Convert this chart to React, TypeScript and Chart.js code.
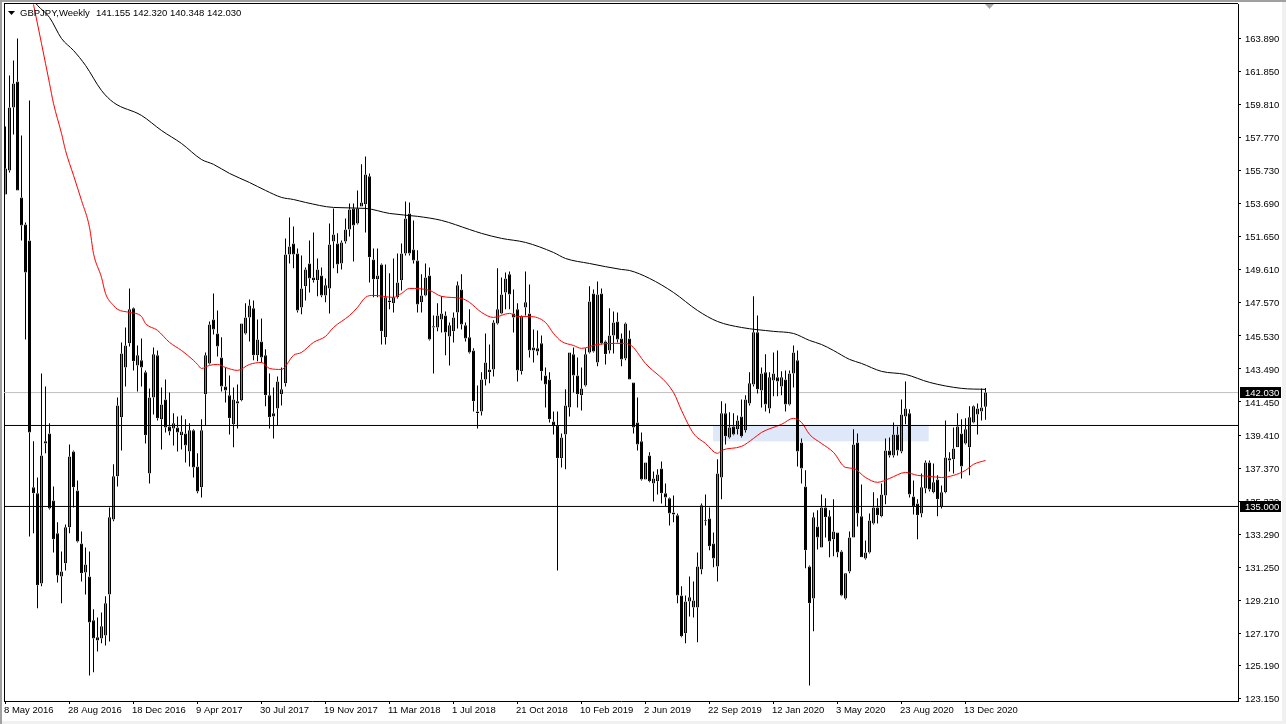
// GBPJPY weekly candlestick chart, MT4 look
import React, { useEffect, useRef } from "react";
import { Chart, registerables } from "chart.js";

Chart.register(...registerables);

const FONT = "Liberation Sans";
const GREEN = "#22c022";

const tickDates = ["8 May 2016", "28 Aug 2016", "18 Dec 2016", "9 Apr 2017", "30 Jul 2017", "19 Nov 2017", "11 Mar 2018", "1 Jul 2018", "21 Oct 2018", "10 Feb 2019", "2 Jun 2019", "22 Sep 2019", "12 Jan 2020", "3 May 2020", "23 Aug 2020", "13 Dec 2020"];
const priceTicks = [123.15, 125.19, 127.17, 129.21, 131.25, 133.29, 135.33, 137.37, 139.41, 141.45, 143.49, 145.53, 147.57, 149.61, 151.65, 153.69, 155.73, 157.77, 159.81, 161.85, 163.89];

const opens = [
	154.26,155.74,159.63,161.24,154.08,152.41,151.42,136.18,135.81,130.25,
	139.02,139.51,135.37,133.34,130.68,131.49,133.71,138.40,135.99,132.72,
	130.93,130.68,127.97,126.92,126.85,127.04,129.57,134.20,136.86,140.50,
	143.58,145.07,147.23,143.71,144.02,143.28,137.04,141.73,144.33,140.38,
	141.61,139.94,139.82,139.88,139.39,139.51,138.40,139.70,137.47,136.18,
	141.92,143.83,146.55,145.68,144.20,142.41,141.86,140.07,141.49,141.55,
	145.68,146.67,147.23,144.33,145.19,144.33,141.86,140.75,141.05,141.92,
	142.60,150.56,151.24,150.62,147.29,148.59,150.00,149.14,148.96,149.26,
	148.03,148.46,151.36,151.24,150.00,151.36,152.10,153.40,152.47,153.52,
	153.65,155.38,150.25,149.02,149.94,145.44,147.72,147.54,147.91,148.96,
	150.62,153.09,150.87,150.19,147.60,148.03,149.26,146.12,146.05,146.55,
	146.79,145.50,145.81,146.98,148.40,146.18,145.44,144.63,140.87,140.87,
	142.84,143.46,143.46,146.30,146.92,148.21,149.33,146.92,147.17,143.34,
	147.29,146.92,144.82,144.76,145.07,143.09,142.84,140.25,140.00,137.97,
	139.45,141.11,144.39,143.09,141.86,142.47,144.51,148.15,143.89,148.15,
	145.19,144.63,145.56,146.42,145.37,144.14,145.37,142.66,140.19,139.02,
	136.67,138.15,136.42,136.55,137.35,135.81,135.50,134.63,134.45,129.51,
	127.17,129.14,128.77,128.77,131.11,134.14,134.26,132.72,131.30,136.79,
	140.75,139.26,139.94,139.76,140.56,139.70,141.36,142.53,145.75,142.16,
	143.28,141.05,142.78,142.97,142.41,142.84,141.30,143.21,144.02,138.95,
	136.24,131.30,129.32,133.77,132.47,134.94,134.39,132.97,133.40,132.22,
	129.32,130.99,133.09,138.95,134.39,131.79,132.16,133.95,134.94,134.39,
	135.68,138.46,138.15,139.45,138.40,140.56,140.75,135.62,135.19,134.57,
	136.11,137.72,135.87,136.67,135.00,135.87,137.97,137.91,138.65,139.51,
	138.89,138.65,140.19,140.68,140.87,141.155,
];
const highs = [
	158.46,161.61,162.53,163.89,157.90,152.53,160.06,139.02,136.79,143.21,
	142.41,140.13,136.24,134.02,132.22,133.89,138.83,138.46,136.61,133.46,
	132.47,132.22,128.65,128.15,128.46,129.45,134.94,137.60,141.73,145.13,
	146.05,148.46,147.29,144.94,145.37,143.40,142.29,144.82,144.63,142.35,
	142.84,142.04,140.75,140.56,140.62,140.38,140.13,139.76,138.28,140.38,
	144.51,146.42,148.15,147.10,145.44,143.58,143.09,142.35,142.53,146.30,
	147.54,147.78,147.72,146.55,146.61,144.70,143.21,142.35,143.03,143.58,
	151.55,152.84,152.29,150.93,150.50,149.76,151.42,151.92,150.31,149.76,
	149.08,152.47,153.40,151.86,151.42,152.78,153.71,153.71,154.51,156.12,
	156.61,155.56,150.93,150.93,150.00,149.94,149.39,150.31,150.62,151.24,
	153.83,153.77,152.66,150.81,149.33,150.00,149.76,146.79,147.54,147.97,
	147.04,146.36,146.98,148.89,149.33,146.36,147.17,144.76,142.47,143.28,
	145.68,145.00,146.49,149.70,149.14,149.45,149.51,148.40,147.54,146.79,
	149.51,148.71,145.93,145.87,145.56,143.58,143.28,140.87,140.87,139.51,
	142.23,144.51,144.82,144.20,143.58,144.76,148.59,148.40,148.89,148.46,
	145.25,147.23,147.04,146.98,145.68,146.36,145.87,142.66,141.73,139.57,
	137.72,138.34,137.16,137.29,137.78,136.42,135.56,135.68,134.57,130.07,
	129.51,130.68,130.37,132.16,135.19,135.74,134.94,133.40,137.91,141.49,
	141.36,140.81,140.75,140.62,141.61,141.86,143.28,147.97,146.79,143.58,
	144.39,143.28,144.51,144.63,143.34,143.40,143.40,144.94,144.63,139.20,
	137.23,131.36,134.63,134.76,135.74,135.50,134.76,135.44,133.40,132.29,
	130.87,133.46,139.76,139.51,136.36,132.90,134.57,135.87,135.50,136.42,
	139.20,139.26,140.19,139.94,141.61,142.72,141.00,136.61,135.44,137.04,
	137.84,137.84,137.66,136.92,136.30,140.31,138.34,139.88,140.75,140.38,
	140.44,141.18,141.24,141.36,142.29,142.32,
];
const lows = [
	154.26,155.62,157.97,154.51,151.42,145.31,133.15,133.34,128.71,130.07,
	138.28,134.82,132.16,130.31,129.02,131.05,133.34,134.94,132.78,130.37,
	129.57,124.57,124.76,126.05,126.55,126.42,126.67,134.08,136.24,138.46,
	142.41,144.88,143.40,142.10,142.41,138.89,136.42,140.68,140.31,138.52,
	139.57,139.39,138.77,138.40,138.52,137.72,137.47,136.79,135.81,135.56,
	140.00,143.77,145.62,144.26,142.10,141.42,139.45,138.65,139.82,141.49,
	145.62,145.19,144.02,143.96,143.89,141.18,139.82,139.20,140.00,141.24,
	142.41,150.00,149.70,146.98,146.86,147.72,148.21,148.83,147.97,147.91,
	147.60,146.92,149.70,149.39,149.63,151.24,151.67,150.13,152.41,153.52,
	151.92,148.83,147.91,147.91,145.00,145.00,147.17,146.98,147.84,148.34,
	150.50,150.50,150.00,146.98,146.98,147.97,145.25,143.21,145.81,145.74,
	144.33,143.71,145.13,145.99,145.93,145.19,144.45,140.87,139.82,140.62,
	142.47,142.60,143.03,146.24,146.86,147.17,147.17,145.74,142.72,143.15,
	146.79,144.20,143.89,144.33,142.78,141.11,140.19,139.45,131.05,137.41,
	137.29,140.56,142.04,141.11,140.93,142.41,144.45,144.51,143.65,145.00,
	143.77,144.45,144.45,145.13,143.65,144.02,142.84,139.51,138.46,136.61,
	136.67,136.49,135.31,135.74,135.19,135.00,133.83,134.02,129.02,126.92,
	126.55,128.21,128.15,126.61,130.81,133.83,132.29,131.24,130.37,135.44,
	138.83,139.20,139.39,139.45,139.26,139.57,141.24,142.41,141.98,141.11,
	140.87,140.75,141.80,141.80,141.86,140.87,141.24,142.35,137.47,136.42,
	131.18,123.95,127.29,132.35,132.47,133.09,131.86,131.92,131.86,129.45,
	129.26,130.87,133.09,133.77,131.86,131.73,132.10,133.89,133.95,134.33,
	135.13,138.03,138.03,138.15,138.28,140.07,135.56,134.51,132.97,134.33,
	135.81,135.93,135.81,134.39,134.88,135.81,137.16,137.04,138.65,136.73,
	138.83,136.92,140.13,139.45,140.31,140.348,
];
const closes = [
	155.87,159.63,161.11,154.51,152.35,149.45,139.57,135.81,130.13,138.15,
	138.89,134.88,132.97,130.74,130.99,133.71,138.09,136.18,132.84,130.87,
	131.42,127.84,126.85,126.73,127.60,129.02,134.33,136.86,141.24,144.45,
	144.94,147.17,143.96,144.33,143.58,139.39,141.73,144.39,140.44,141.30,
	139.88,139.63,140.13,139.57,139.63,138.77,139.70,137.41,135.93,139.70,
	144.33,146.24,145.93,144.88,142.41,142.16,140.44,141.61,141.36,146.30,
	146.67,147.41,144.33,145.31,144.20,141.86,140.50,140.56,142.72,142.23,
	150.56,151.05,150.56,147.10,148.46,149.63,149.08,148.96,149.63,148.03,
	148.65,151.18,151.79,149.94,151.30,152.10,153.34,152.35,153.40,153.77,
	155.50,150.38,149.02,149.26,145.81,147.91,147.60,147.91,148.83,150.62,
	152.78,150.62,150.19,147.47,148.03,149.14,145.31,146.05,146.79,146.92,
	145.74,146.18,146.67,148.65,146.24,145.37,144.51,141.49,140.75,142.84,
	143.89,143.28,146.36,147.17,148.09,149.08,148.09,146.67,143.40,146.73,
	147.60,144.63,144.63,144.57,143.34,142.53,140.38,140.00,137.97,139.26,
	141.24,144.51,143.09,141.92,142.29,144.39,147.66,144.57,148.09,145.07,
	144.39,145.56,146.36,145.31,144.08,146.30,142.84,139.88,138.83,136.67,
	137.72,136.55,136.73,136.98,135.81,135.56,134.57,134.51,129.51,126.98,
	129.14,129.39,129.20,131.30,135.07,134.08,132.54,131.79,137.04,140.75,
	139.33,139.88,139.45,140.31,139.33,141.61,142.60,145.75,142.23,143.21,
	141.30,142.97,143.21,142.72,142.97,141.30,143.21,144.51,138.40,137.35,
	132.29,129.02,134.33,133.09,134.94,134.33,132.84,133.46,132.16,129.51,
	130.87,133.09,138.83,134.57,131.86,132.16,134.14,134.94,134.45,135.74,
	138.46,138.15,139.45,138.46,140.68,141.05,135.74,135.00,134.45,136.18,
	137.72,136.05,136.49,135.44,135.87,138.03,137.84,138.58,139.94,137.47,
	139.76,140.50,141.18,141.05,141.11,142.03,
];

// moving averages, read every few bars: [bar index, price]
const redMa = [[7,165.99],[9,163.58],[11,161.12],[12,159.88],[14,158.03],[15,156.98],[17,155.44],[19,153.89],[21,152.23],[22,150.62],[24,149.14],[25,148.15],[27,147.41],[28,147.17],[31,146.98],[34,146.73],[35,146.30],[38,145.87],[41,145.13],[44,144.63],[47,144.02],[48,143.77],[49,143.52],[51,143.71],[53,143.77],[55,143.58],[58,143.40],[61,143.77],[64,143.89],[66,143.52],[69,143.46],[72,144.33],[74,144.51],[77,145.13],[80,145.50],[82,146.05],[86,146.79],[88,147.29],[90,147.91],[92,148.03],[97,147.91],[99,148.15],[101,148.46],[106,148.34],[109,147.97],[114,147.84],[116,147.60],[119,146.98],[122,146.67],[126,146.92],[128,146.73],[131,146.73],[135,146.36],[137,145.68],[139,145.19],[142,144.94],[144,144.76],[148,145.00],[154,145.07],[156,145.00],[160,143.83],[167,142.04],[169,140.93],[172,139.51],[175,138.89],[178,138.28],[179,138.46],[184,138.71],[187,139.20],[189,139.57],[194,140.07],[197,140.44],[199,140.19],[201,139.45],[204,138.89],[207,138.34],[210,137.41],[212,137.35],[215,136.79],[218,136.49],[221,136.73],[225,137.10],[228,136.92],[231,136.86],[234,136.79],[237,136.92],[240,137.23],[242,137.60],[245,137.84]];
const blackMa = [[7,166.24],[8,165.93],[11,165.19],[14,163.89],[17,163.15],[20,162.23],[24,160.68],[27,159.94],[34,159.14],[39,158.21],[44,157.41],[49,156.42],[52,156.12],[56,155.56],[61,155.00],[65,154.51],[69,154.08],[72,153.95],[75,153.77],[82,153.46],[90,153.40],[96,153.09],[103,152.91],[109,152.66],[116,152.10],[119,151.86],[124,151.55],[130,151.30],[137,150.68],[140,150.31],[146,150.00],[154,149.63],[156,149.57],[161,149.08],[167,148.21],[173,147.10],[178,146.42],[184,146.05],[192,145.81],[197,145.68],[201,145.25],[204,145.00],[207,144.63],[211,144.08],[214,143.83],[219,143.34],[225,143.15],[231,142.66],[239,142.29],[245,142.23]];

const levelLines = [140.0, 135.0];
const lastPrice = 142.03;
const boxedPrices = [142.03, 135.0];
const zoneBars = [176.9, 230.8];
const zonePrices = [139.02, 140.0];

const chromePlugin = {
	id: "chrome",
	beforeDraw(chart: any) {
		const { ctx, width, height, chartArea } = chart;
		ctx.save();
		ctx.fillStyle = "#f0f0f0";
		ctx.fillRect(0, 0, width, height);
		ctx.fillStyle = "#ffffff";
		ctx.fillRect(2, 2, 1280, 719);
		ctx.fillStyle = "#a0a0a0";
		ctx.fillRect(0, 0, width, 2);
		ctx.fillRect(0, 0, 2, height);
		ctx.fillStyle = "#000000";
		ctx.fillRect(chartArea.left, chartArea.top - 1, 1, chartArea.bottom - chartArea.top + 1);
		ctx.fillRect(chartArea.left, chartArea.top - 1, chartArea.right - chartArea.left, 1);
		ctx.restore();
	},
	beforeDatasetsDraw(chart: any) {
		const { ctx, scales } = chart;
		const x0 = scales.x.getPixelForValue(zoneBars[0]);
		const x1 = scales.x.getPixelForValue(zoneBars[1]);
		const y0 = scales.y.getPixelForValue(zonePrices[1]);
		const y1 = scales.y.getPixelForValue(zonePrices[0]);
		ctx.save();
		ctx.fillStyle = "#dfe8f9";
		ctx.fillRect(x0, y0, x1 - x0, y1 - y0);
		ctx.restore();
	},
	afterDraw(chart: any) {
		const { ctx, scales } = chart;
		ctx.save();
		// title and open/high/low/close
		ctx.font = `9.5px "${FONT}"`;
		ctx.textBaseline = "middle";
		ctx.textAlign = "left";
		ctx.fillStyle = "#000000";
		ctx.fillText("GBPJPY,Weekly", 20, 13);
		ctx.fillText("141.155 142.320 140.348 142.030", 96, 13);
		ctx.beginPath();
		ctx.moveTo(8, 11);
		ctx.lineTo(15, 11);
		ctx.lineTo(11.5, 15);
		ctx.closePath();
		ctx.fill();
		// shift marker
		ctx.fillStyle = "#a8a8a8";
		ctx.beginPath();
		ctx.moveTo(985, 4);
		ctx.lineTo(994, 4);
		ctx.lineTo(989.5, 9);
		ctx.closePath();
		ctx.fill();
		// boxed prices on the axis
		boxedPrices.forEach((price) => {
			const y = Math.round(scales.y.getPixelForValue(price) - 0.5);
			ctx.fillStyle = "#000000";
			ctx.fillRect(1240, y - 5, 41, 11);
			ctx.fillStyle = "#ffffff";
			ctx.fillText(price.toFixed(3), 1245, y + 1);
		});
		ctx.restore();
	},
};

const clearPadding = (scale: any) => {
	scale.paddingLeft = 0;
	scale.paddingRight = 0;
	scale.paddingTop = 0;
	scale.paddingBottom = 0;
};

const App: React.FC = () => {
	const canvasRef = useRef<HTMLCanvasElement>(null);

	useEffect(() => {
		document.body.style.margin = "0";
		if (!canvasRef.current) return;
		const bars = opens.map((_, i) => i);
		const bodyTop = (i: number) => Math.max(opens[i], closes[i]);
		const bodyBottom = (i: number) => Math.min(opens[i], closes[i]);
		const levelData = (price: number) => [{ x: -1, y: price }, { x: 309, y: price }];
		const wickStyle = {
			backgroundColor: "#000000",
			borderWidth: 0,
			barThickness: 1,
			grouped: false,
			inflateAmount: 0,
			order: 4,
		};
		const maStyle = {
			type: "line" as const,
			borderWidth: 1,
			pointRadius: 0,
			cubicInterpolationMode: "monotone",
			order: 2,
		};
		const myChart = new Chart(canvasRef.current, {
			type: "bar",
			data: {
				datasets: [
					...levelLines.map((price) => ({
						type: "line" as const,
						data: levelData(price),
						borderColor: "#000000",
						borderWidth: 1,
						pointRadius: 0,
						order: 1,
					})),
					{
						...maStyle,
						data: redMa.map(([x, y]) => ({ x, y })),
						borderColor: "#ff0000",
					},
					{
						...maStyle,
						data: blackMa.map(([x, y]) => ({ x, y })),
						borderColor: "#000000",
					},
					{
						data: bars.map((i) => ({ x: i, y: [bodyBottom(i), bodyTop(i)] })),
						backgroundColor: bars.map((i) => (closes[i] >= opens[i] ? GREEN : "#000000")),
						borderColor: "#000000",
						borderWidth: 1,
						borderSkipped: false,
						barThickness: 3,
						grouped: false,
						inflateAmount: 0,
						minBarLength: 1,
						order: 3,
					},
					{ ...wickStyle, data: bars.map((i) => ({ x: i, y: [bodyTop(i), highs[i]] })) },
					{ ...wickStyle, data: bars.map((i) => ({ x: i, y: [lows[i], bodyBottom(i)] })) },
					{
						type: "line" as const,
						data: levelData(lastPrice),
						borderColor: "#c0c0c0",
						borderWidth: 1,
						pointRadius: 0,
						order: 5,
					},
				] as any,
			},
			options: {
				responsive: false,
				devicePixelRatio: 1,
				animation: false,
				layout: { padding: { left: 4, top: 4, right: 0, bottom: 0 } },
				plugins: { legend: { display: false }, tooltip: { enabled: false } },
				scales: {
					x: {
						type: "linear",
						offset: false,
						min: -0.375,
						max: 308.125,
						afterFit(scale: any) {
							scale.height = 23;
							clearPadding(scale);
						},
						afterBuildTicks(scale: any) {
							scale.ticks = tickDates.map((_, k) => ({ value: k * 16 }));
						},
						grid: { offset: false, drawOnChartArea: false, tickLength: 3, tickColor: "#000000" },
						border: { color: "#000000" },
						ticks: {
							autoSkip: false,
							maxRotation: 0,
							align: "start",
							padding: 1,
							labelOffset: -1.5,
							color: "#000000",
							font: { family: FONT, size: 9.5 },
							callback: (value: any) => tickDates[Number(value) / 16],
						},
					},
					y: {
						position: "right",
						min: 122.99,
						max: 166.02,
						afterFit(scale: any) {
							scale.width = 48;
							clearPadding(scale);
						},
						afterBuildTicks(scale: any) {
							scale.ticks = priceTicks.map((value) => ({ value }));
						},
						grid: { drawOnChartArea: false, tickLength: 3, tickColor: "#000000" },
						border: { color: "#000000" },
						ticks: {
							padding: 4,
							labelOffset: 1,
							color: "#000000",
							font: { family: FONT, size: 9.5 },
							callback: (value: any) => Number(value).toFixed(3),
						},
					},
				},
			},
			plugins: [chromePlugin],
		} as any);

		return () => {
			myChart.destroy();
		};
	}, []);

	return <canvas ref={canvasRef} width={1286} height={724} style={{ display: "block" }} />;
};

export default App;
